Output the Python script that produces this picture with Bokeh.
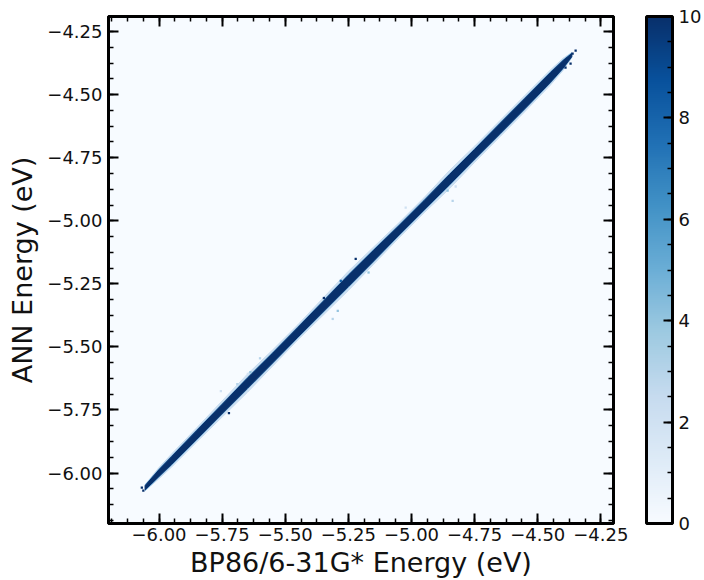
from bokeh.plotting import figure
from bokeh.models import (LinearAxis, FixedTicker, CustomJSTickFormatter, ColorBar,
                          LinearColorMapper, ColumnDataSource)
from bokeh.palettes import Blues256
from bokeh.embed import file_html
from bokeh.resources import INLINE

# ---- data (eV) ----
band_x = [-6.055, -6.00, -5.95, -5.85, -5.75, -5.65, -5.55, -5.45, -5.35, -5.25,
          -5.15, -5.05, -4.95, -4.85, -4.75, -4.65, -4.55, -4.45, -4.40, -4.365]
band_offset = [-0.003, 0.0, 0.0, 0.002, 0.004, 0.006, 0.006, 0.008, 0.010, 0.012,
               0.012, 0.012, 0.012, 0.013, 0.014, 0.015, 0.016, 0.018, 0.020, 0.022]
core_half = [0.008, 0.013, 0.015, 0.017, 0.018, 0.020, 0.019, 0.019, 0.020, 0.022,
             0.021, 0.018, 0.018, 0.020, 0.019, 0.020, 0.020, 0.019, 0.015, 0.006]
fringe_half = [0.012, 0.022, 0.026, 0.028, 0.032, 0.036, 0.032, 0.030, 0.034, 0.038,
               0.034, 0.030, 0.030, 0.036, 0.032, 0.032, 0.032, 0.030, 0.024, 0.010]

out_x = [-5.755, -5.690, -5.648, -5.638, -5.723, -5.221, -5.280, -5.312, -5.292, -5.347,
         -4.837, -4.857, -4.825, -5.023, -4.350, -4.362, -4.382, -4.370, -4.390, -4.410,
         -6.062, -6.068, -5.600, -5.170]
out_y = [-5.675, -5.647, -5.607, -5.600, -5.762, -5.151, -5.238, -5.389, -5.357, -5.306,
         -4.921, -4.880, -4.864, -4.948, -4.325, -4.337, -4.357, -4.377, -4.393, -4.397,
         -6.070, -6.058, -5.545, -5.205]
out_count = [2, 3, 2, 4, 10, 10, 8, 3, 4, 10,
             3, 4, 2, 2, 10, 10, 10, 10, 10, 10,
             10, 10, 3, 4]

major_ticks = [-6.00, -5.75, -5.50, -5.25, -5.00, -4.75, -4.50, -4.25]
minor_ticks = [-6.1875 + 0.0625 * i for i in range(33)]
cbar_ticks = [0, 2, 4, 6, 8, 10]
cbar_minor = [0.5 * i for i in range(21)]

cmap = list(reversed(Blues256))
mapper = LinearColorMapper(palette=cmap, low=0, high=10)

p = figure(width=704, height=580, x_range=(-6.2, -4.2), y_range=(-6.2, -4.19),
           output_backend="svg", toolbar_location=None,
           min_border_left=108, min_border_top=16, min_border_bottom=57, min_border_right=2,
           background_fill_color="white", border_fill_color="white")
p.grid.visible = False
p.background_fill_color = cmap[0]
p.outline_line_color = "black"
p.outline_line_width = 3

# band
def band(half):
    up_x = list(band_x)
    up_y = [x + o + h for x, o, h in zip(band_x, band_offset, half)]
    lo_x = list(reversed(band_x))
    lo_y = list(reversed([x + o - h for x, o, h in zip(band_x, band_offset, half)]))
    return up_x + lo_x, up_y + lo_y

fx, fy = band(fringe_half)
p.patch(fx, fy, fill_color="#c6dbef", line_color="#c6dbef", line_width=1, fill_alpha=0.9)
mid = [c + 0.005 for c in core_half]
mx, my = band(mid)
p.patch(mx, my, fill_color="#4a8fc4", line_color=None, fill_alpha=0.85)
cx, cy = band(core_half)
p.patch(cx, cy, fill_color="#08306b", line_color="#08306b", line_width=1)

src = ColumnDataSource(dict(x=out_x, y=out_y, c=out_count))
p.rect("x", "y", width=0.009, height=0.009, source=src,
       fill_color={"field": "c", "transform": mapper}, line_color=None)

fmt = CustomJSTickFormatter(code="return tick.toFixed(2).replace('-', '\\u2212');")
blank = CustomJSTickFormatter(code="return '';")
ticker = FixedTicker(ticks=major_ticks, minor_ticks=minor_ticks)

def style_axis(ax, labels=True):
    ax.ticker = ticker
    ax.formatter = fmt if labels else blank
    ax.axis_line_color = "black"
    ax.axis_line_width = 3
    ax.major_tick_in = 10
    ax.major_tick_out = 0
    ax.minor_tick_in = 5
    ax.minor_tick_out = 0
    ax.major_tick_line_width = 2
    ax.minor_tick_line_width = 1.5
    ax.major_tick_line_color = "black"
    ax.minor_tick_line_color = "black"
    ax.major_label_text_font = "DejaVu Sans"
    ax.major_label_text_font_size = "18px"
    ax.major_label_text_color = "#111111"

for ax in p.xaxis + p.yaxis:
    style_axis(ax)
p.xaxis.axis_label = "BP86/6-31G* Energy (eV)"
p.yaxis.axis_label = "ANN Energy (eV)"
for ax in p.xaxis + p.yaxis:
    ax.axis_label_text_font = "DejaVu Sans"
    ax.axis_label_text_font_size = "27px"
    ax.axis_label_text_font_style = "normal"
    ax.axis_label_text_color = "#111111"
p.xaxis.major_label_standoff = 4
p.yaxis.major_label_standoff = 6
p.xaxis.axis_label_standoff = 3
p.yaxis.axis_label_standoff = 6

top = LinearAxis()
style_axis(top, labels=False)
top.major_label_standoff = 0
p.add_layout(top, "above")
right = LinearAxis()
style_axis(right, labels=False)
right.major_label_standoff = 0
p.add_layout(right, "right")

# invisible spacer axis giving the gap between the frame and the colour bar
spacer = LinearAxis(ticker=ticker, formatter=blank, axis_line_color=None,
                    major_tick_line_color=None, minor_tick_line_color=None,
                    major_tick_in=0, major_tick_out=33, minor_tick_in=0, minor_tick_out=0,
                    major_label_standoff=0)
p.add_layout(spacer, "right")

cb = ColorBar(color_mapper=mapper, width=26, padding=0,
              ticker=FixedTicker(ticks=cbar_ticks, minor_ticks=cbar_minor),
              bar_line_color="black", bar_line_width=3,
              major_tick_in=9, major_tick_out=0, major_tick_line_color="black",
              major_tick_line_width=2,
              minor_tick_in=5, minor_tick_out=0, minor_tick_line_color="black",
              minor_tick_line_width=1.5,
              label_standoff=6, major_label_text_font="DejaVu Sans",
              major_label_text_font_size="18px", major_label_text_color="#111111",
              background_fill_color=None, border_line_color=None)
p.add_layout(cb, "right")

open("out.html", "w").write(file_html(p, INLINE))
